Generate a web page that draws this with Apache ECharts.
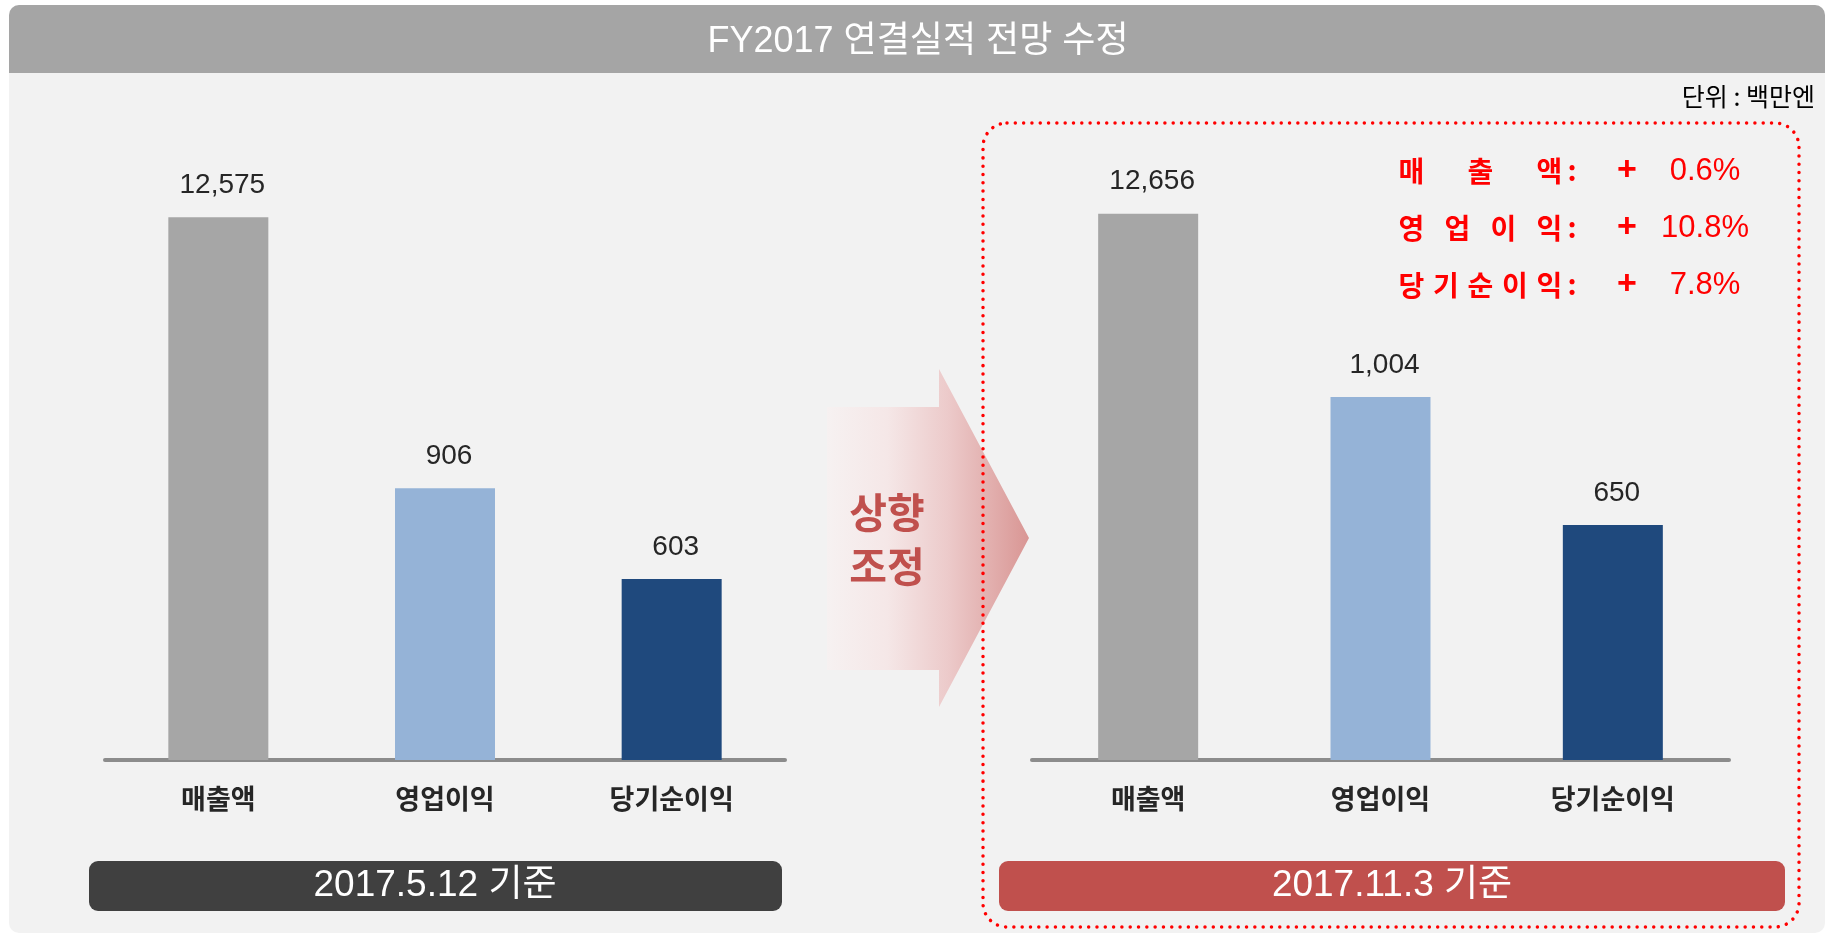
<!DOCTYPE html>
<html>
<head>
<meta charset="utf-8">
<title>FY2017 연결실적 전망 수정</title>
<script src="https://cdn.jsdelivr.net/npm/echarts@6/dist/echarts.min.js"></script>
<style>
  html, body { margin: 0; padding: 0; background: #fff; }
  #chart { width: 1829px; height: 935px; }
</style>
</head>
<body>
<div id="chart"></div>
<script>
// 데이터
const categories = ['매출액', '영업이익', '당기순이익'];
const beforeValues = [12575, 906, 603];   // 2017.5.12 기준
const afterValues = [12656, 1004, 650];   // 2017.11.3 기준
const beforeLabel = '2017.5.12 기준';
const afterLabel = '2017.11.3 기준';
const titleText = 'FY2017 연결실적 전망 수정';
const unitText = '단위 : 백만엔';
const arrowText = ['상향', '조정'];

const barColors = ['#a6a6a6', '#95b3d7', '#1f497d'];
const latin = '"Liberation Sans", "Noto Sans CJK KR", sans-serif';
const kr = '"Noto Sans CJK KR", sans-serif';

let myChart = echarts.init(document.getElementById('chart'), null, { renderer: 'canvas' });

// 매출액은 따로, 이익은 따로 (축이 다름)
function onlyFirst(arr) { return arr.map((v, i) => i === 0 ? v : '-'); }
function exceptFirst(arr) { return arr.map((v, i) => i === 0 ? '-' : v); }

function barSeries(xIdx, yIdx, data) {
  return {
    type: 'bar',
    xAxisIndex: xIdx,
    yAxisIndex: yIdx,
    barWidth: 100,
    barGap: '-100%',
    data: data,
    itemStyle: {
      color: p => barColors[p.dataIndex]
    },
    label: {
      show: true,
      position: 'top',
      distance: 18,
      offset: [4, 0],
      color: '#262626',
      fontSize: 28,
      fontFamily: latin,
      formatter: p => Number(p.value).toLocaleString('en-US')
    }
  };
}

function xAxisOf(gridIndex) {
  return {
    type: 'category',
    gridIndex: gridIndex,
    data: categories,
    axisLine: { lineStyle: { color: '#8c8c8c', width: 4 } },
    axisTick: { show: false },
    splitLine: { show: false },
    axisLabel: {
      margin: 25,
      color: '#262626',
      fontSize: 27,
      fontWeight: 'bold',
      fontFamily: kr
    }
  };
}

function yAxisOf(gridIndex, max) {
  return { type: 'value', gridIndex: gridIndex, min: 0, max: max, show: false };
}

// 변동률 텍스트 (오른쪽 위)
const changeRows = [];
categories.forEach((name, i) => {
  let y = 171 + i * 57;
  let chars = name.split('');
  let x0 = 1411.5, x1 = 1549.5;
  chars.forEach((c, k) => {
    changeRows.push({
      type: 'text', z: 10,
      style: { text: c, x: x0 + k * (x1 - x0) / (chars.length - 1), y: y,
        align: 'center', verticalAlign: 'middle', fill: '#ff0000', font: 'bold 28px ' + kr }
    });
  });
  let pct = ((afterValues[i] / beforeValues[i] - 1) * 100).toFixed(1) + '%';
  changeRows.push(
    { type: 'text', z: 10, style: { text: ':', x: 1572, y: y - 1, align: 'center', verticalAlign: 'middle', fill: '#ff0000', font: 'bold 28px ' + kr } },
    { type: 'text', z: 10, style: { text: '+', x: 1627, y: y, align: 'center', verticalAlign: 'middle', fill: '#ff0000', font: 'bold 34px ' + latin } },
    { type: 'text', z: 10, style: { text: pct, x: 1705, y: y, align: 'center', verticalAlign: 'middle', fill: '#ff0000', font: '31px ' + latin } }
  );
});

myChart.setOption({
  backgroundColor: '#ffffff',
  animation: false,
  grid: [
    { left: 105, width: 680, top: 160, height: 600 },
    { left: 1032, width: 697, top: 160, height: 600 }
  ],
  xAxis: [xAxisOf(0), xAxisOf(1)],
  yAxis: [
    yAxisOf(0, 13900),
    yAxisOf(0, 2000),
    yAxisOf(1, 13900),
    yAxisOf(1, 1660)
  ],
  series: [
    barSeries(0, 0, onlyFirst(beforeValues)),
    barSeries(0, 1, exceptFirst(beforeValues)),
    barSeries(1, 2, onlyFirst(afterValues)),
    barSeries(1, 3, exceptFirst(afterValues))
  ],
  graphic: [
    // 배경 패널
    { type: 'rect', z: -20, shape: { x: 9, y: 5, width: 1816, height: 928, r: 10 }, style: { fill: '#f2f2f2' } },
    { type: 'rect', z: -19, shape: { x: 9, y: 5, width: 1816, height: 68, r: [10, 10, 0, 0] }, style: { fill: '#a5a5a5' } },
    { type: 'text', z: 10, style: { text: titleText, x: 918, y: 42, align: 'center', verticalAlign: 'middle', fill: '#ffffff', font: '36px ' + latin } },
    { type: 'text', z: 10, style: { text: unitText, x: 1815, y: 96, align: 'right', verticalAlign: 'middle', fill: '#000000', font: '25px ' + kr } },
    // 점선 박스
    { type: 'rect', z: 5, shape: { x: 983, y: 123, width: 816, height: 804, r: 24 },
      style: { fill: 'none', stroke: '#ff0000', lineWidth: 3.5, lineDash: [0.01, 8.3], lineCap: 'round' } },
    // 화살표
    { type: 'polygon', z: 1,
      shape: { points: [[827, 407], [939, 407], [939, 369], [1029, 538], [939, 707], [939, 670], [827, 670]] },
      style: { fill: new echarts.graphic.LinearGradient(0, 0, 1, 0, [
        { offset: 0, color: '#f6f1f1' },
        { offset: 0.3, color: '#f5e7e7' },
        { offset: 0.6, color: '#eccaca' },
        { offset: 1, color: '#d99694' }
      ]) } },
    { type: 'text', z: 10, style: { text: arrowText[0], x: 887, y: 512, align: 'center', verticalAlign: 'middle', fill: '#c0504d', font: 'bold 41px ' + kr } },
    { type: 'text', z: 10, style: { text: arrowText[1], x: 887, y: 566, align: 'center', verticalAlign: 'middle', fill: '#c0504d', font: 'bold 41px ' + kr } },
    // 기준일 박스
    { type: 'rect', z: 1, shape: { x: 89, y: 861, width: 693, height: 50, r: 9 }, style: { fill: '#404040' } },
    { type: 'text', z: 10, style: { text: beforeLabel, x: 435, y: 886, align: 'center', verticalAlign: 'middle', fill: '#ffffff', font: '37px ' + latin } },
    { type: 'rect', z: 1, shape: { x: 999, y: 861, width: 786, height: 50, r: 9 }, style: { fill: '#c0504d' } },
    { type: 'text', z: 10, style: { text: afterLabel, x: 1392, y: 886, align: 'center', verticalAlign: 'middle', fill: '#ffffff', font: '37px ' + latin } }
  ].concat(changeRows)
});

window.addEventListener('resize', () => {
  myChart.resize();
});
</script>
</body>
</html>
